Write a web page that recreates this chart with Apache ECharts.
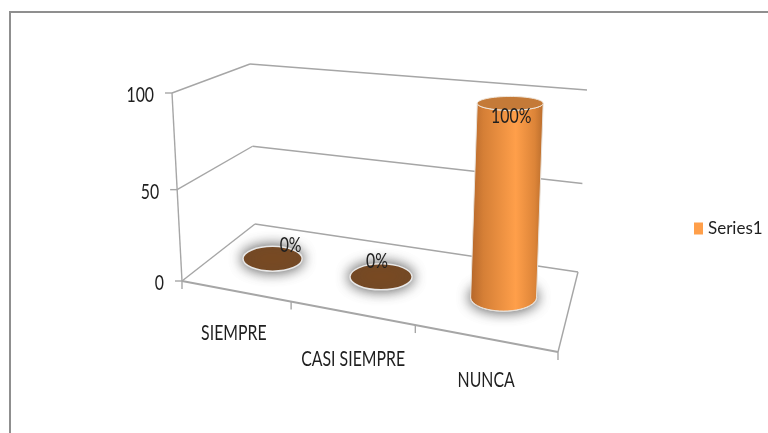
<!DOCTYPE html>
<html>
<head>
<meta charset="utf-8">
<style>
html,body{margin:0;padding:0;background:#fff;}
#chart{width:768px;height:433px;}
</style>
<script src="https://cdn.jsdelivr.net/npm/echarts@6/dist/echarts.min.js"></script>
</head>
<body>
<div id="chart"></div>
<script>
var categories = ['SIEMPRE', 'CASI SIEMPRE', 'NUNCA'];
var seriesValues = [0, 0, 100];
var percentLabels = ['0%', '0%', '100%'];
var yTicks = [0, 50, 100];

// corrimiento a mano de las etiquetas, como en el original
var labelNudge = [[18, -14], [-4, -16], [1, 13]];
var categoryNudge = [[-1, 42], [2, 46], [2, 42]];

var fontName = 'Lato,"Open Sans",sans-serif';
var lineGrey = '#a6a6a6';

// esquinas de la base y del techo de la caja 3D: frente-izq, frente-der, fondo-der, fondo-izq
var floorQuad = [[182, 281], [558, 352], [578, 272], [255, 224]];
var roofQuad = [[172, 93], [577, 135], [587, 90], [250, 64]];

function homography(q) {
    var dx1 = q[1][0] - q[2][0], dx2 = q[3][0] - q[2][0], sx = q[0][0] - q[1][0] + q[2][0] - q[3][0];
    var dy1 = q[1][1] - q[2][1], dy2 = q[3][1] - q[2][1], sy = q[0][1] - q[1][1] + q[2][1] - q[3][1];
    var det = dx1 * dy2 - dx2 * dy1;
    var g = (sx * dy2 - dx2 * sy) / det;
    var h = (dx1 * sy - sx * dy1) / det;
    return function (u, d) {
        var w = g * u + h * d + 1;
        return [
            ((q[1][0] - q[0][0] + g * q[1][0]) * u + (q[3][0] - q[0][0] + h * q[3][0]) * d + q[0][0]) / w,
            ((q[1][1] - q[0][1] + g * q[1][1]) * u + (q[3][1] - q[0][1] + h * q[3][1]) * d + q[0][1]) / w
        ];
    };
}
var floorAt = homography(floorQuad);
var roofAt = homography(roofQuad);

// pasa un punto de la rejilla (oculta) a la caja en perspectiva
// shift va en anchos de banda: la escala de categorias redondea los decimales
function project(params, api, cat, val, depth, shift) {
    var g = params.coordSys;
    var p = api.coord([cat, val]);
    var u = (p[0] + (shift || 0) * api.size([1, 0])[0] - g.x) / g.width;
    var t = (g.y + g.height - p[1]) / g.height;
    var k = t / (1 + 0.058 * (1 - t));
    var a = floorAt(u, depth), b = roofAt(u, depth);
    return [a[0] + (b[0] - a[0]) * k, a[1] + (b[1] - a[1]) * k];
}

function seg(a, b, w) {
    return {
        type: 'line',
        shape: { x1: a[0], y1: a[1], x2: b[0], y2: b[1] },
        style: { stroke: lineGrey, lineWidth: w || 1.4 }
    };
}

function txt(str, x, y, align) {
    return {
        type: 'text',
        x: x, y: y, scaleX: 0.72,
        style: {
            text: str, x: 0, y: 0, fill: '#1f1f1f',
            align: align, verticalAlign: 'middle',
            font: '22px ' + fontName
        }
    };
}

function renderFrame(params, api) {
    var val = api.value(1);
    var kids = [];
    var front = project(params, api, 0, val, 0, -0.5);
    var back = project(params, api, 0, val, 1, -0.5);
    var right = project(params, api, 2, val, 1, 0.5);
    kids.push(seg(front, back));
    kids.push(seg(back, right));
    kids.push(seg([front[0] - 7, front[1]], front));
    kids.push(txt(String(val), front[0] - 18, front[1] + 2, 'right'));
    if (params.dataIndex === 0) {
        var rightFront = project(params, api, 2, 0, 0, 0.5);
        kids.push(seg(front, rightFront, 1.8));
        kids.push(seg(rightFront, right));
        kids.push(seg(project(params, api, 0, yTicks[yTicks.length - 1], 0, -0.5), front));
        // marcas del eje de categorias
        for (var i = 0; i <= categories.length; i++) {
            var tk = i < categories.length ? project(params, api, i, 0, 0, -0.5) : rightFront;
            kids.push(seg(tk, [tk[0], tk[1] + 8]));
        }
        categories.forEach(function (name, c) {
            var m = project(params, api, c, 0, 0);
            kids.push(txt(name, m[0] + categoryNudge[c][0], m[1] + categoryNudge[c][1], 'center'));
        });
    }
    return { type: 'group', children: kids };
}

function renderCylinder(params, api) {
    var cat = api.value(0), val = api.value(1);
    var base = project(params, api, cat, 0, 0.5, 0.015);
    var top = project(params, api, cat, val, 0.5, 0.015);
    var edgeL = project(params, api, cat, 0, 0.5, -0.5);
    var edgeR = project(params, api, cat, 0, 0.5, 0.5);
    var rx = (edgeR[0] - edgeL[0]) * 0.12 + 17.3;
    var ry = rx * 0.42;
    var topRy = val > 0 ? rx * 0.21 : ry;
    var kids = [{
        type: 'ellipse',
        shape: { cx: base[0], cy: base[1], rx: rx, ry: ry },
        style: { fill: '#7a4a22', stroke: '#e8e8e8', lineWidth: 1.5, shadowBlur: 13, shadowColor: 'rgba(70,70,70,0.95)' }
    }];
    if (val > 0) {
        var pts = [], n = 24, i, a;
        for (i = 0; i <= n; i++) {
            a = Math.PI * i / n;
            pts.push([base[0] + rx * Math.cos(a), base[1] + ry * Math.sin(a)]);
        }
        for (i = 0; i <= n; i++) {
            a = Math.PI * i / n;
            pts.push([top[0] - rx * Math.cos(a), top[1] + topRy * Math.sin(a)]);
        }
        kids.push({
            type: 'polygon',
            shape: { points: pts },
            style: {
                stroke: '#e9e2da', lineWidth: 1,
                fill: new echarts.graphic.LinearGradient(0, 0, 1, 0, [
                    { offset: 0, color: '#b4662a' },
                    { offset: 0.18, color: '#d57f36' },
                    { offset: 0.62, color: '#ff9f4a' },
                    { offset: 0.88, color: '#dc8438' },
                    { offset: 1, color: '#b86c2c' }
                ])
            }
        });
        kids.push({
            type: 'ellipse',
            shape: { cx: top[0], cy: top[1], rx: rx, ry: topRy },
            style: { fill: '#c47a38', stroke: '#f0e6da', lineWidth: 1 }
        });
    }
    var nudge = labelNudge[params.dataIndex];
    kids.push(txt(percentLabels[params.dataIndex], top[0] + nudge[0], top[1] + nudge[1], 'center'));
    return { type: 'group', children: kids };
}

var chart = echarts.init(document.getElementById('chart'));
chart.setOption({
    animation: false,
    backgroundColor: '#fff',
    grid: { left: 172, top: 93, width: 386, height: 188 },
    xAxis: { type: 'category', data: categories, show: false },
    yAxis: { type: 'value', min: 0, max: 100, interval: 50, show: false },
    legend: {
        data: ['Series1'],
        left: 689, top: 215,
        icon: 'rect', itemWidth: 9, itemHeight: 12,
        textStyle: { fontFamily: fontName, fontSize: 17, color: '#1f1f1f' }
    },
    graphic: [
        { type: 'line', z: 0, shape: { x1: 10, y1: 12, x2: 768, y2: 12 }, style: { stroke: '#8f8f8f', lineWidth: 2 } },
        { type: 'line', z: 0, shape: { x1: 10, y1: 11, x2: 10, y2: 433 }, style: { stroke: '#8f8f8f', lineWidth: 2 } }
    ],
    series: [
        {
            type: 'custom',
            name: 'frame',
            z: 1,
            silent: true,
            renderItem: renderFrame,
            data: yTicks.map(function (t) { return [0, t]; })
        },
        {
            type: 'custom',
            name: 'Series1',
            z: 2,
            itemStyle: { color: '#ff9f4a' },
            renderItem: renderCylinder,
            encode: { x: 0, y: 1 },
            data: seriesValues.map(function (v, i) { return [i, v]; })
        }
    ]
});
</script>
</body>
</html>
